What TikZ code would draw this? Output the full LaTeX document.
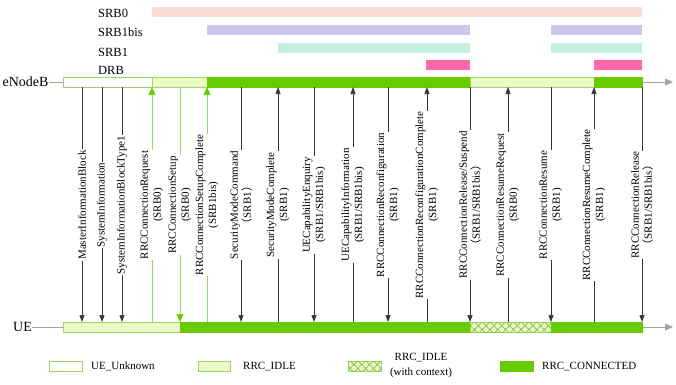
\documentclass[tikz,border=0pt]{standalone}
\usepackage{fontspec}
\setmainfont{Liberation Serif}
\newfontfamily\cjk{Noto Sans CJK SC}
\usepackage{xcolor}
\usetikzlibrary{arrows.meta, patterns.meta}

\definecolor{conngreen}{RGB}{102,204,0}
\definecolor{idlecol}{RGB}{238,250,198}
\definecolor{edgegreen}{RGB}{150,218,100}
\definecolor{hatchgreen}{RGB}{125,190,70}
\definecolor{srbzero}{RGB}{253,221,211}
\definecolor{srbbis}{RGB}{205,199,238}
\definecolor{srbone}{RGB}{194,238,226}
\definecolor{drbcol}{RGB}{255,105,168}
\definecolor{axisgray}{RGB}{165,165,165}

\tikzset{
  unknown/.style={draw=edgegreen, line width=0.8pt, fill=white},
  idle/.style={draw=edgegreen, line width=0.8pt, fill=idlecol},
  conn/.style={draw=conngreen, line width=0.8pt, fill=conngreen},
  withctx/.style={draw=edgegreen, line width=0.8pt, fill=idlecol,
    postaction={pattern={Hatch[angle=45, distance=5.5pt, line width=0.7pt]}, pattern color=hatchgreen}},
  msg/.style={draw=black!80, line width=0.6pt, -{Triangle[length=7pt, width=5pt]}},
  msggreen/.style={draw=edgegreen, line width=0.6pt, -{Triangle[length=8pt, width=7pt, color=conngreen]}},
  msglabel/.style={rotate=90, fill=white, inner sep=1pt, align=center, font=\fontsize{11}{13}\selectfont},
  srblabel/.style={anchor=west, inner sep=0pt, font=\fontsize{12.5}{14}\selectfont},
  entity/.style={inner sep=0pt, font=\fontsize{14}{16}\selectfont},
  legtext/.style={inner sep=0pt, align=center, font=\fontsize{11}{15}\selectfont},
  axisline/.style={draw=axisgray, line width=0.8pt},
}

\begin{document}
\begin{tikzpicture}[x=1pt, y=-1pt]
  \useasboundingbox (0,0) rectangle (676,384);
  % Radio bearers
  \node[srblabel] (lsrbzero) at (98,13) {SRB0};
  \node[srblabel] (lsrbbis) at (98,32.5) {SRB1bis};
  \node[srblabel] (lsrbone) at (98,52) {SRB1};
  \node[srblabel] (ldrb) at (98,70) {DRB};
  \foreach \xa/\xb/\ya/\col in {152/642/7/srbzero, 207/470/25/srbbis, 551/642/25/srbbis,
      278/470/43/srbone, 551/642/43/srbone, 426/470/60/drbcol, 594/642/60/drbcol}
    \fill[\col] (\xa,\ya) rectangle (\xb,\ya+9.5);
  % Entities and time axes
  \node[entity] (enb) at (25.5,82) {eNodeB};
  \node[entity] (ue) at (22.5,327) {UE};
  \coordinate (enbstart) at (63,82);
  \coordinate (enbend) at (642,82);
  \coordinate (enbtip) at (673,82);
  \coordinate (uestart) at (63,327);
  \coordinate (ueend) at (642,327);
  \coordinate (uetip) at (673,327);
  \draw[axisline] (enb) -- (enbstart);
  \draw[axisline] (ue) -- (uestart);
  \draw[axisline, -{Triangle[length=8pt, width=7pt]}] (enbend) -- (enbtip);
  \draw[axisline, -{Triangle[length=8pt, width=7pt]}] (ueend) -- (uetip);
  \foreach \xa/\xb/\sty in {63/152/unknown, 152/207/idle, 207/470/conn, 470/594/idle, 594/642/conn}
    \draw[\sty] (\xa,77) rectangle (\xb,87);
  \foreach \xa/\xb/\sty in {63/180/idle, 180/470/conn, 470/551/withctx, 551/642/conn}
    \draw[\sty] (\xa,322) rectangle (\xb,332);
  % Messages
  \foreach \x/\from/\to/\sty/\txt [count=\i] in {
      82/t/b/msg/{MasterInformationBlock},
      102/t/b/msg/{SystemInformation},
      122/t/b/msg/{SystemInformationBlockType1},
      152/b/t/msggreen/{RRCConnectionRequest\\(SRB0)},
      180/t/b/msggreen/{RRCConnectionSetup\\(SRB0)},
      207/b/t/msggreen/{RRCConnectionSetupComplete\\(SRB1bis)},
      241/t/b/msg/{SecurityModeCommand\\{\cjk （}SRB1{\cjk ）}},
      278/b/t/msg/{SecurityModeComplete\\(SRB1)},
      314/t/b/msg/{UECapabilityEnquiry\\(SRB1/SRB1bis)},
      353/b/t/msg/{UECapabilityInformation\\(SRB1/SRB1bis)},
      388/t/b/msg/{RRCConnectionReconfiguration\\(SRB1)},
      427/b/t/msg/{RRCConnectionReconfigurationComplete\\(SRB1)},
      470/t/b/msg/{RRCConnectionRelease/Suspend\\{\cjk （}SRB1/SRB1bis{\cjk ）}},
      508/b/t/msg/{RRCConnectionResumeRequest\\(SRB0)},
      551/t/b/msg/{RRCConnectionResume\\(SRB1)},
      594/b/t/msg/{RRCConnectionResumeComplete\\(SRB1)},
      642/t/b/msg/{RRCConnectionRelease\\{\cjk （}SRB1/SRB1bis{\cjk ）}}%
    } {
    \coordinate (t\i) at (\x,87);
    \coordinate (b\i) at (\x,322);
    \draw[\sty] (\from\i) -- (\to\i);
    \node[msglabel] (lab\i) at (\x,205) {\txt};
  }
  % Legend
  \draw[unknown] (49,361) rectangle (82,371);
  \node[legtext, anchor=west] (kunknown) at (91,366.5) {UE\_Unknown};
  \draw[idle] (198,361) rectangle (230,371);
  \node[legtext, anchor=west] (kidle) at (243,366.5) {RRC\_IDLE};
  \draw[withctx] (348,361) rectangle (381,371);
  \node[legtext] (kctx) at (421,366) {RRC\_IDLE\\(with context)};
  \draw[conn] (500,361) rectangle (533,371);
  \node[legtext, anchor=west] (kconn) at (542,366.5) {RRC\_CONNECTED};
\end{tikzpicture}
\end{document}
